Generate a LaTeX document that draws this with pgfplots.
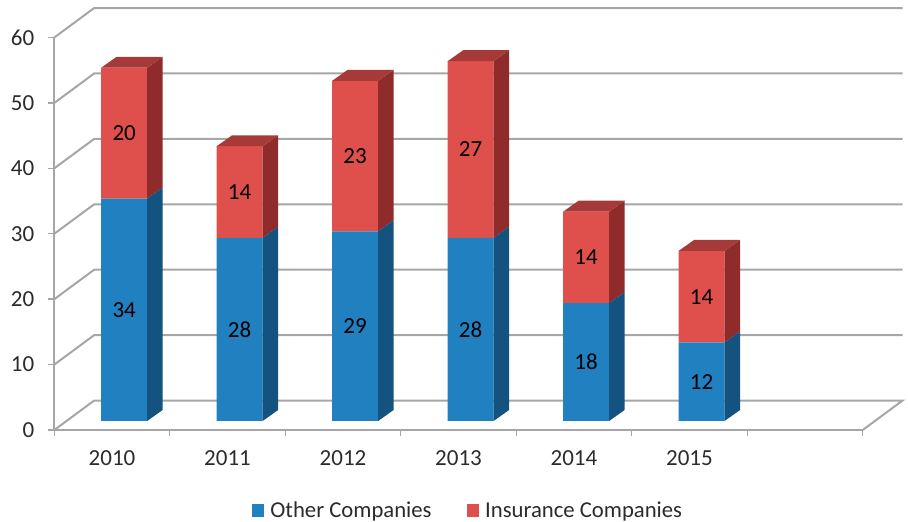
\documentclass[border=0pt]{standalone}
\usepackage{pgfplots}
\pgfplotsset{compat=1.18}
\usepackage{fontspec}
\setmainfont{Carlito}
\definecolor{grid3d}{HTML}{A6A6A6}
\definecolor{bluefront}{HTML}{2080C0}
\definecolor{blueside}{HTML}{14527F}
\definecolor{redfront}{HTML}{DF4F4C}
\definecolor{redside}{HTML}{8F2C2B}
\definecolor{redtop}{HTML}{A63A38}
\definecolor{labelgray}{HTML}{2B2B2B}
\pgfplotsset{
  box/.style={scale only axis, width=808.4pt, height=392.5pt, clip=false},
  barbox/.style={box, hide axis, xmin=-0.605, xmax=6.395, ymin=-1.376, ymax=58.624},
}
\begin{document}
\begin{tikzpicture}
\useasboundingbox (-54.3pt,-92pt) rectangle (853.7pt,430pt);
% walls and axes
\begin{axis}[box, xmin=-0.5, xmax=6.5, ymin=0, ymax=60,
  axis x line=bottom, axis y line=left,
  axis line style={-, grid3d, line width=2pt},
  tick style={grid3d, line width=1.4pt},
  major tick length=6.5pt,
  tick align=outside,
  xtick={-0.5,0.5,1.5,2.5,3.5,4.5,5.5,6.5},
  xticklabels={2010,2011,2012,2013,2014,2015,{}},
  x tick label as interval,
  ytick={0,10,20,30,40,50,60},
  tick label style={font=\fontsize{23}{23}\selectfont, text=labelgray},
  yticklabel style={xshift=-10pt},
  xticklabel style={yshift=-11pt},
  /pgf/number format/assume math mode=true,
]
\addplot[grid3d, line width=2pt, forget plot] coordinates {(-0.5,0) (-0.155,4.5) (6.845,4.5) (6.5,0)};
\addplot[grid3d, line width=2pt, forget plot] coordinates {(-0.5,10) (-0.155,14.5) (6.845,14.5)};
\addplot[grid3d, line width=2pt, forget plot] coordinates {(-0.5,20) (-0.155,24.5) (6.845,24.5)};
\addplot[grid3d, line width=2pt, forget plot] coordinates {(-0.5,30) (-0.155,34.5) (6.845,34.5)};
\addplot[grid3d, line width=2pt, forget plot] coordinates {(-0.5,40) (-0.155,44.5) (6.845,44.5)};
\addplot[grid3d, line width=2pt, forget plot] coordinates {(-0.5,50) (-0.155,54.5) (6.845,54.5)};
\addplot[grid3d, line width=2pt, forget plot] coordinates {(-0.5,60) (-0.155,64.5) (6.845,64.5)};
\end{axis}
% front faces
\begin{axis}[barbox, ybar stacked, bar width=0.398,
  legend columns=2,
  legend style={at={(0.5118,-0.206)}, anchor=center, draw=none, fill=none,
    font=\fontsize{22.7}{22.7}\selectfont, text=labelgray,
    /tikz/every odd column/.append style={column sep=4pt},
    /tikz/every even column/.append style={column sep=33pt}},
  legend image code/.code={\fill[#1] (0pt,-6.5pt) rectangle (12.5pt,6.5pt);},
]
\addplot[fill=bluefront, draw=none] coordinates {(0,34) (1,28) (2,29) (3,28) (4,18) (5,12)};
\addplot[fill=redfront, draw=none] coordinates {(0,20) (1,14) (2,23) (3,27) (4,14) (5,14)};
\legend{Other Companies, Insurance Companies}
\end{axis}
% sides, tops, data labels
\begin{axis}[barbox]
% red sides
\addplot[fill=redside, draw=none] coordinates {(0.199,34) (0.333,35.68) (0.333,55.68) (0.199,54)} -- cycle;
\addplot[fill=redside, draw=none] coordinates {(1.199,28) (1.333,29.68) (1.333,43.68) (1.199,42)} -- cycle;
\addplot[fill=redside, draw=none] coordinates {(2.199,29) (2.333,30.68) (2.333,53.68) (2.199,52)} -- cycle;
\addplot[fill=redside, draw=none] coordinates {(3.199,28) (3.333,29.68) (3.333,56.68) (3.199,55)} -- cycle;
\addplot[fill=redside, draw=none] coordinates {(4.199,18) (4.333,19.68) (4.333,33.68) (4.199,32)} -- cycle;
\addplot[fill=redside, draw=none] coordinates {(5.199,12) (5.333,13.68) (5.333,27.68) (5.199,26)} -- cycle;
% blue sides
\addplot[fill=blueside, draw=none] coordinates {(0.199,0) (0.333,1.68) (0.333,35.68) (0.199,34)} -- cycle;
\addplot[fill=blueside, draw=none] coordinates {(1.199,0) (1.333,1.68) (1.333,29.68) (1.199,28)} -- cycle;
\addplot[fill=blueside, draw=none] coordinates {(2.199,0) (2.333,1.68) (2.333,30.68) (2.199,29)} -- cycle;
\addplot[fill=blueside, draw=none] coordinates {(3.199,0) (3.333,1.68) (3.333,29.68) (3.199,28)} -- cycle;
\addplot[fill=blueside, draw=none] coordinates {(4.199,0) (4.333,1.68) (4.333,19.68) (4.199,18)} -- cycle;
\addplot[fill=blueside, draw=none] coordinates {(5.199,0) (5.333,1.68) (5.333,13.68) (5.199,12)} -- cycle;
% tops
\addplot[fill=redtop, draw=none] coordinates {(-0.199,54) (-0.065,55.68) (0.333,55.68) (0.199,54)} -- cycle;
\addplot[fill=redtop, draw=none] coordinates {(0.801,42) (0.935,43.68) (1.333,43.68) (1.199,42)} -- cycle;
\addplot[fill=redtop, draw=none] coordinates {(1.801,52) (1.935,53.68) (2.333,53.68) (2.199,52)} -- cycle;
\addplot[fill=redtop, draw=none] coordinates {(2.801,55) (2.935,56.68) (3.333,56.68) (3.199,55)} -- cycle;
\addplot[fill=redtop, draw=none] coordinates {(3.801,32) (3.935,33.68) (4.333,33.68) (4.199,32)} -- cycle;
\addplot[fill=redtop, draw=none] coordinates {(4.801,26) (4.935,27.68) (5.333,27.68) (5.199,26)} -- cycle;
% data labels
\addplot[only marks, mark=none, point meta=explicit symbolic, nodes near coords,
  every node near coord/.append style={anchor=center, inner sep=0pt, text=black,
    font=\fontsize{23}{23}\selectfont}]
  table[meta=label] {
x y label
0 17 34
1 14 28
2 14.5 29
3 14 28
4 9 18
5 6 12
0 44 20
1 35 14
2 40.5 23
3 41.5 27
4 25 14
5 19 14
};
\end{axis}
\end{tikzpicture}
\end{document}
